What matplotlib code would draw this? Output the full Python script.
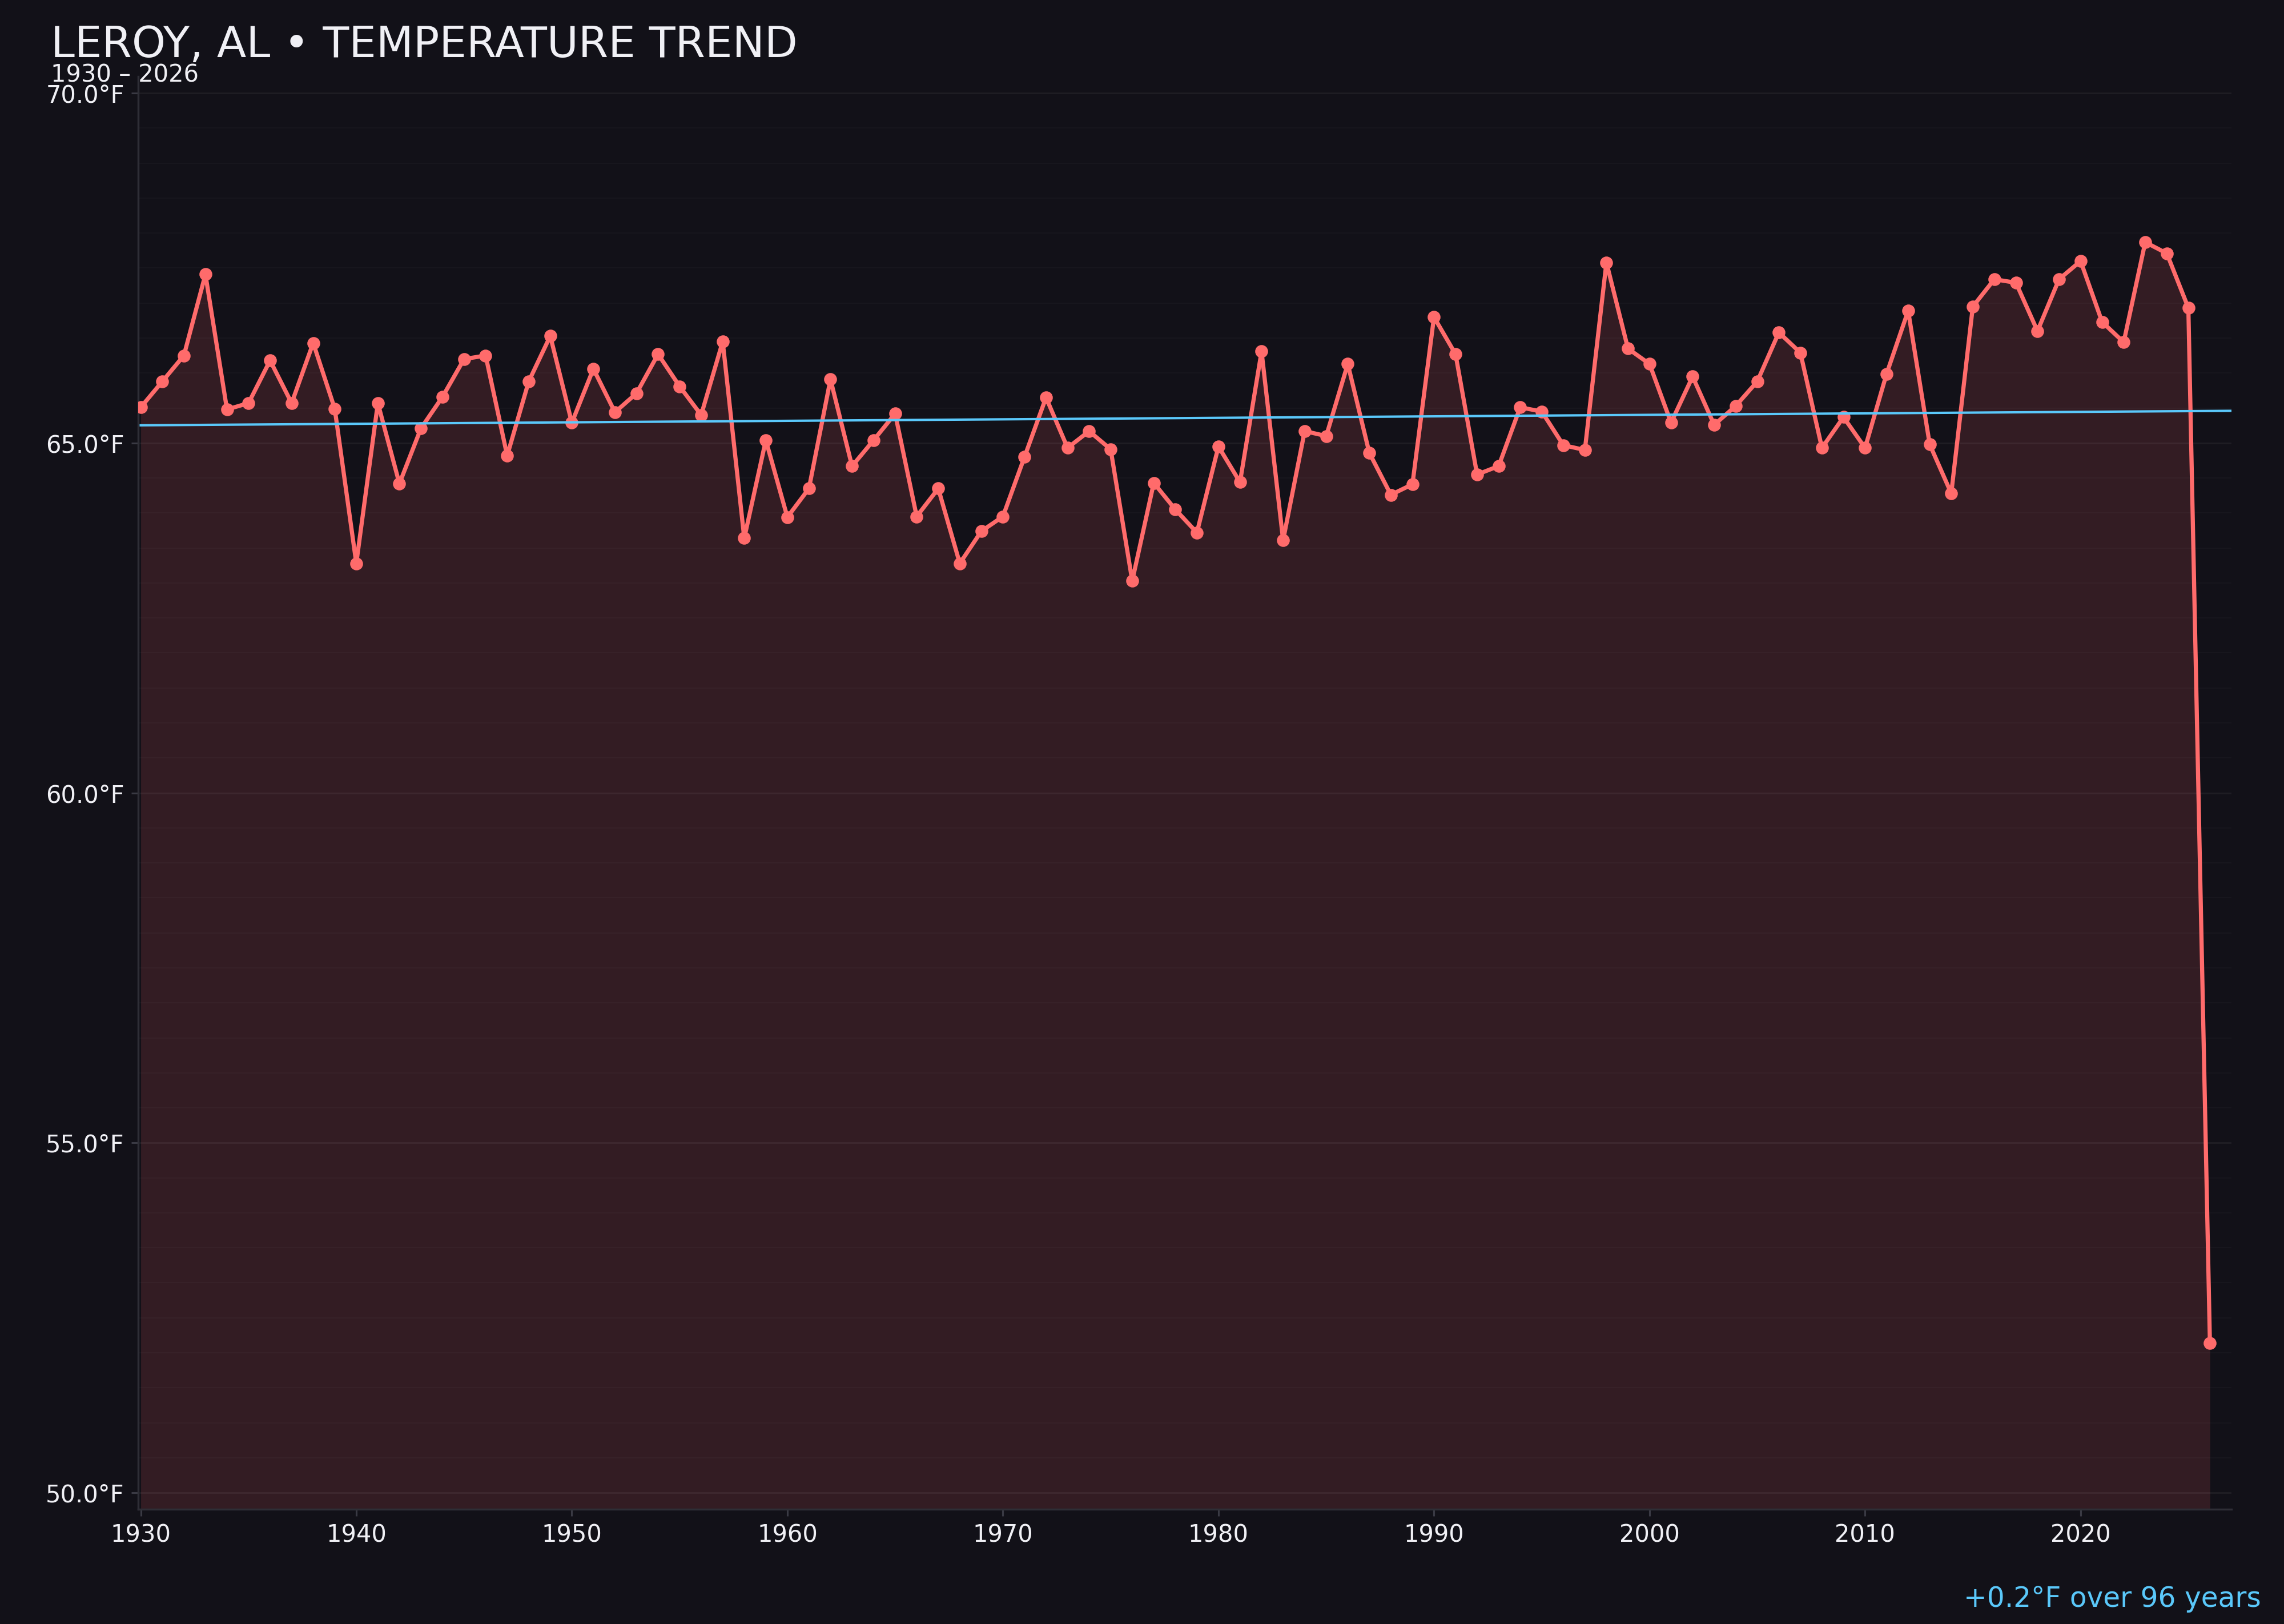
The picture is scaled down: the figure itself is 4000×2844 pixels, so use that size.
import matplotlib
matplotlib.use("Agg")
import matplotlib.pyplot as plt
from matplotlib.ticker import MultipleLocator, FuncFormatter
import numpy as np

# yearly mean temperature (°F)
years = list(range(1930, 2027))
temps = [
    65.51, 65.88, 66.25, 67.41, 65.48, 65.57, 66.18, 65.57, 66.43, 65.49,  # 1930s
    63.28, 65.57, 64.42, 65.21, 65.66, 66.20, 66.25, 64.82, 65.88, 66.53,  # 1940s
    65.29, 66.06, 65.44, 65.71, 66.27, 65.81, 65.40, 66.45, 63.64, 65.04,  # 1950s
    63.94, 64.35, 65.91, 64.67, 65.04, 65.42, 63.95, 64.35, 63.28, 63.74,  # 1960s
    63.95, 64.80, 65.65, 64.93, 65.17, 64.91, 63.03, 64.43, 64.05, 63.72,  # 1970s
    64.95, 64.44, 66.31, 63.61, 65.17, 65.10, 66.13, 64.86, 64.26, 64.41,  # 1980s
    66.80, 66.27, 64.55, 64.67, 65.51, 65.45, 64.97, 64.90, 67.58, 66.35,  # 1990s
    66.13, 65.29, 65.95, 65.26, 65.53, 65.88, 66.58, 66.29, 64.93, 65.37,  # 2000s
    64.93, 65.99, 66.89, 64.98, 64.28, 66.95, 67.34, 67.29, 66.60, 67.34,  # 2010s
    67.60, 66.73, 66.44, 67.87, 67.71, 66.93, 52.14,                       # 2020s
]
x_ticks = [1930, 1940, 1950, 1960, 1970, 1980, 1990, 2000, 2010, 2020]
y_ticks = [50, 55, 60, 65, 70]

title = "LEROY, AL \u2022 TEMPERATURE TREND"
subtitle = "1930 \u2013 2026"
trend_note = "+0.2\u00b0F over 96 years"

bg = "#121118"
line_c = "#ff6b6b"
trend_c = "#5ac8fa"
text_c = "#f0f0f5"

fig = plt.figure(figsize=(16, 11.376), dpi=250, facecolor=bg)
ax = fig.add_axes([0.0605, 0.0705, 0.9165, 0.8825])
ax.set_facecolor(bg)

ymin, ymax = 49.76, 70.24
xmin, xmax = 1929.88, 2027.0

# fill under the line down to the bottom of the axes
ax.fill_between(years, temps, ymin, color="#3a1e25", alpha=0.85, linewidth=0, zorder=1)
ax.plot(years, temps, color=line_c, linewidth=2.1, marker="o", markersize=5.5,
        zorder=3)

# least squares trend line across the axes
slope, intercept = np.polyfit(years, temps, 1)
tx = np.array([1930, xmax])
ax.plot(tx, slope * tx + intercept, color=trend_c, linewidth=1.2, zorder=4)

ax.set_xlim(xmin, xmax)
ax.set_ylim(ymin, ymax)
ax.set_xticks(x_ticks)
ax.set_yticks(y_ticks)
ax.yaxis.set_minor_locator(MultipleLocator(0.5))
ax.yaxis.set_major_formatter(FuncFormatter(lambda v, p: f"{v:.1f}\u00b0F"))

ax.grid(True, axis="y", which="major", color="white", alpha=0.05, linewidth=0.9, zorder=2)
ax.grid(True, axis="y", which="minor", color="white", alpha=0.025, linewidth=0.6, zorder=2)
ax.tick_params(axis="both", which="major", colors="#3a3a44", labelcolor=text_c,
               labelsize=12, length=3.5, width=0.9)
ax.tick_params(axis="y", which="minor", length=0)

for side in ["top", "right"]:
    ax.spines[side].set_visible(False)
for side in ["left", "bottom"]:
    ax.spines[side].set_color("#2e2e36")
    ax.spines[side].set_linewidth(1.0)

fig.text(0.0223, 0.965, title, color=text_c, fontsize=21.7, ha="left", va="baseline")
fig.text(0.0223, 0.9497, subtitle, color=text_c, fontsize=12, ha="left", va="baseline")
fig.text(0.99, 0.0107, trend_note, color=trend_c, fontsize=14, ha="right", va="baseline")

fig.savefig("out.png", dpi=250, facecolor=bg)
